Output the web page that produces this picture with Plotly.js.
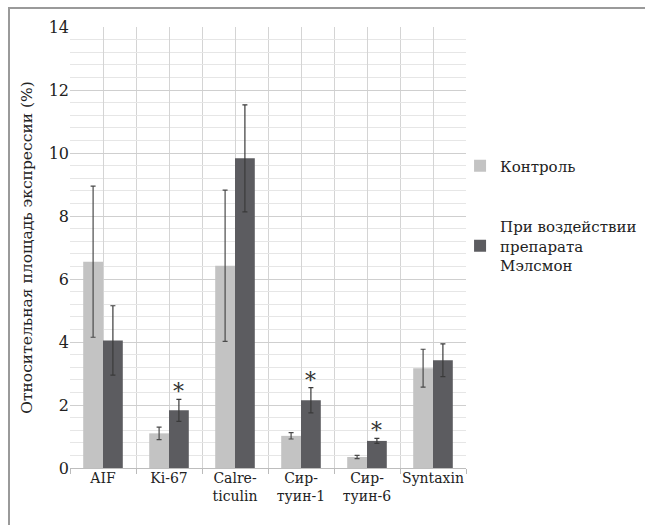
<!DOCTYPE html>
<html>
<head>
<meta charset="utf-8">
<script src="https://cdn.plot.ly/plotly-3.0.1.min.js"></script>
<style>
  html, body { margin: 0; padding: 0; background: #fff; }
  #wrap { position: relative; width: 645px; height: 525px; overflow: hidden; }
  #frame { position: absolute; left: 8px; top: 7px; right: -5px; bottom: -5px;
           border-top: 2px solid #9a9a9a; border-left: 2px solid #9a9a9a; pointer-events: none; z-index: 5; }
  #chart { position: absolute; left: 0; top: 0; width: 645px; height: 525px; }
</style>
</head>
<body>
<div id="wrap">
  <div id="chart"></div>
  <div id="frame"></div>
</div>
<script>
const categories = ["AIF", "Ki-67", "Calre-<br>ticulin", "Сир-<br>туин-1", "Сир-<br>туин-6", "Syntaxin"];
const controlValues = [6.55, 1.1, 6.42, 1.02, 0.35, 3.17];
const controlErrors = [2.4, 0.2, 2.4, 0.1, 0.05, 0.6];
const treatValues = [4.05, 1.83, 9.83, 2.15, 0.86, 3.42];
const treatErrors = [1.1, 0.35, 1.7, 0.4, 0.08, 0.52];
const significant = [false, true, false, true, true, false];
const seriesNames = ["Контроль", "При воздействии<br>препарата<br>Мэлсмон"];

const positions = categories.map((c, i) => i);
const FONT = "DejaVu Serif";

const traces = [
  {
    type: "bar", name: seriesNames[0], legendgroup: "a",
    x: positions, y: controlValues,
    marker: { color: "#c3c3c3" },
    error_y: { type: "data", array: controlErrors, visible: true, color: "#4a4a4a", thickness: 1.2, width: 2.5 }
  },
  {
    type: "bar", name: seriesNames[1], legendgroup: "b",
    x: positions, y: treatValues,
    marker: { color: "#5c5c60" },
    error_y: { type: "data", array: treatErrors, visible: true, color: "#3a3a3a", thickness: 1.2, width: 2.5 }
  }
];

const annotations = [];
significant.forEach((s, i) => {
  if (s) {
    annotations.push({
      x: positions[i] + 0.15, y: treatValues[i] + treatErrors[i],
      xref: "x", yref: "y", text: "*", showarrow: false,
      yanchor: "bottom", yshift: -7,
      font: { family: FONT, size: 22, color: "#333" }
    });
  }
});

const layout = {
  width: 645, height: 525,
  margin: { l: 70, r: 179, t: 27, b: 57, autoexpand: false },
  paper_bgcolor: "#fff", plot_bgcolor: "#fff",
  barmode: "group", bargap: 0.4, bargroupgap: 0,
  font: { family: FONT, size: 15, color: "#222" },
  showlegend: true,
  legend: {
    x: 0.985, xanchor: "left", y: 0.722, yanchor: "top",
    font: { family: FONT, size: 15, color: "#222" },
    traceorder: "grouped", tracegroupgap: 38,
    itemwidth: 30, bgcolor: "rgba(0,0,0,0)"
  },
  xaxis: {
    range: [-0.5, 5.5], tickmode: "array", tickvals: positions, ticktext: categories,
    tickangle: 0,
    showgrid: true, gridcolor: "#d4d4d4", gridwidth: 1,
    ticks: "", tickfont: { family: FONT, size: 14, color: "#222" },
    zeroline: false, showline: false, fixedrange: true,
    minor: { tick0: 0.5, dtick: 1, showgrid: true, gridcolor: "#d4d4d4", gridwidth: 1, ticks: "outside", ticklen: 5, tickcolor: "#bbb" }
  },
  yaxis: {
    range: [0, 14], dtick: 2, tick0: 0,
    showgrid: true, gridcolor: "#cfcfcf", gridwidth: 1,
    minor: { dtick: 0.4, showgrid: true, gridcolor: "#e6e6e6", gridwidth: 1 },
    zeroline: true, zerolinecolor: "#bdbdbd", zerolinewidth: 1,
    ticks: "", tickfont: { family: FONT, size: 16, color: "#222" },
    title: { text: "Относительная площадь экспрессии (%)", font: { family: FONT, size: 15.5, color: "#222" }, standoff: 12 },
    fixedrange: true
  },
  annotations: annotations
};

Plotly.newPlot("chart", traces, layout, { displayModeBar: false, staticPlot: true });
</script>
</body>
</html>
